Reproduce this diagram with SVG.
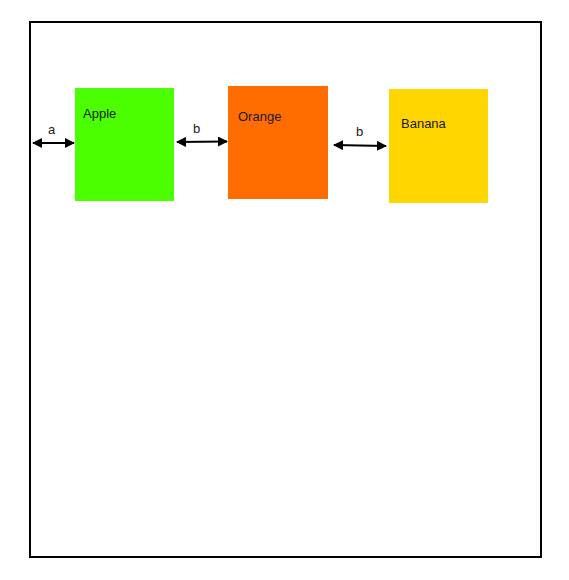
<svg xmlns="http://www.w3.org/2000/svg" width="569" height="580" viewBox="0 0 569 580">
<style>
.lbl{font-family:"Liberation Sans",Arial,sans-serif;font-size:13px;fill:#1a1a1a}
.con{stroke:#000;stroke-width:2;fill:none}
</style>
<defs>
<marker id="ah" viewBox="0 0 10 10" refX="9" refY="5" markerWidth="5" markerHeight="5" orient="auto-start-reverse" markerUnits="strokeWidth">
<path d="M0,0 L10,5 L0,10 z" fill="#000"/>
</marker>
</defs>
<rect x="0" y="0" width="569" height="580" fill="#fff"/>
<rect id="frame" x="30" y="22" width="511" height="535" fill="#fff" stroke="#000" stroke-width="2"/>
<g id="apple">
<rect x="75" y="88" width="99" height="113" fill="#4cff00"/>
<text class="lbl" x="83" y="118">Apple</text>
</g>
<g id="orange">
<rect x="228" y="86" width="100" height="113" fill="#ff6d00"/>
<text class="lbl" x="238" y="121">Orange</text>
</g>
<g id="banana">
<rect x="389" y="89" width="99" height="114" fill="#ffd600"/>
<text class="lbl" x="401" y="128">Banana</text>
</g>
<g id="connectors">
<line class="con" x1="33" y1="143" x2="74" y2="143" marker-start="url(#ah)" marker-end="url(#ah)"/>
<line class="con" x1="177" y1="142" x2="227" y2="141.5" marker-start="url(#ah)" marker-end="url(#ah)"/>
<line class="con" x1="334" y1="145" x2="386" y2="146" marker-start="url(#ah)" marker-end="url(#ah)"/>
<text class="lbl" x="48" y="134">a</text>
<text class="lbl" x="193" y="133">b</text>
<text class="lbl" x="356" y="136">b</text>
</g>
</svg>
